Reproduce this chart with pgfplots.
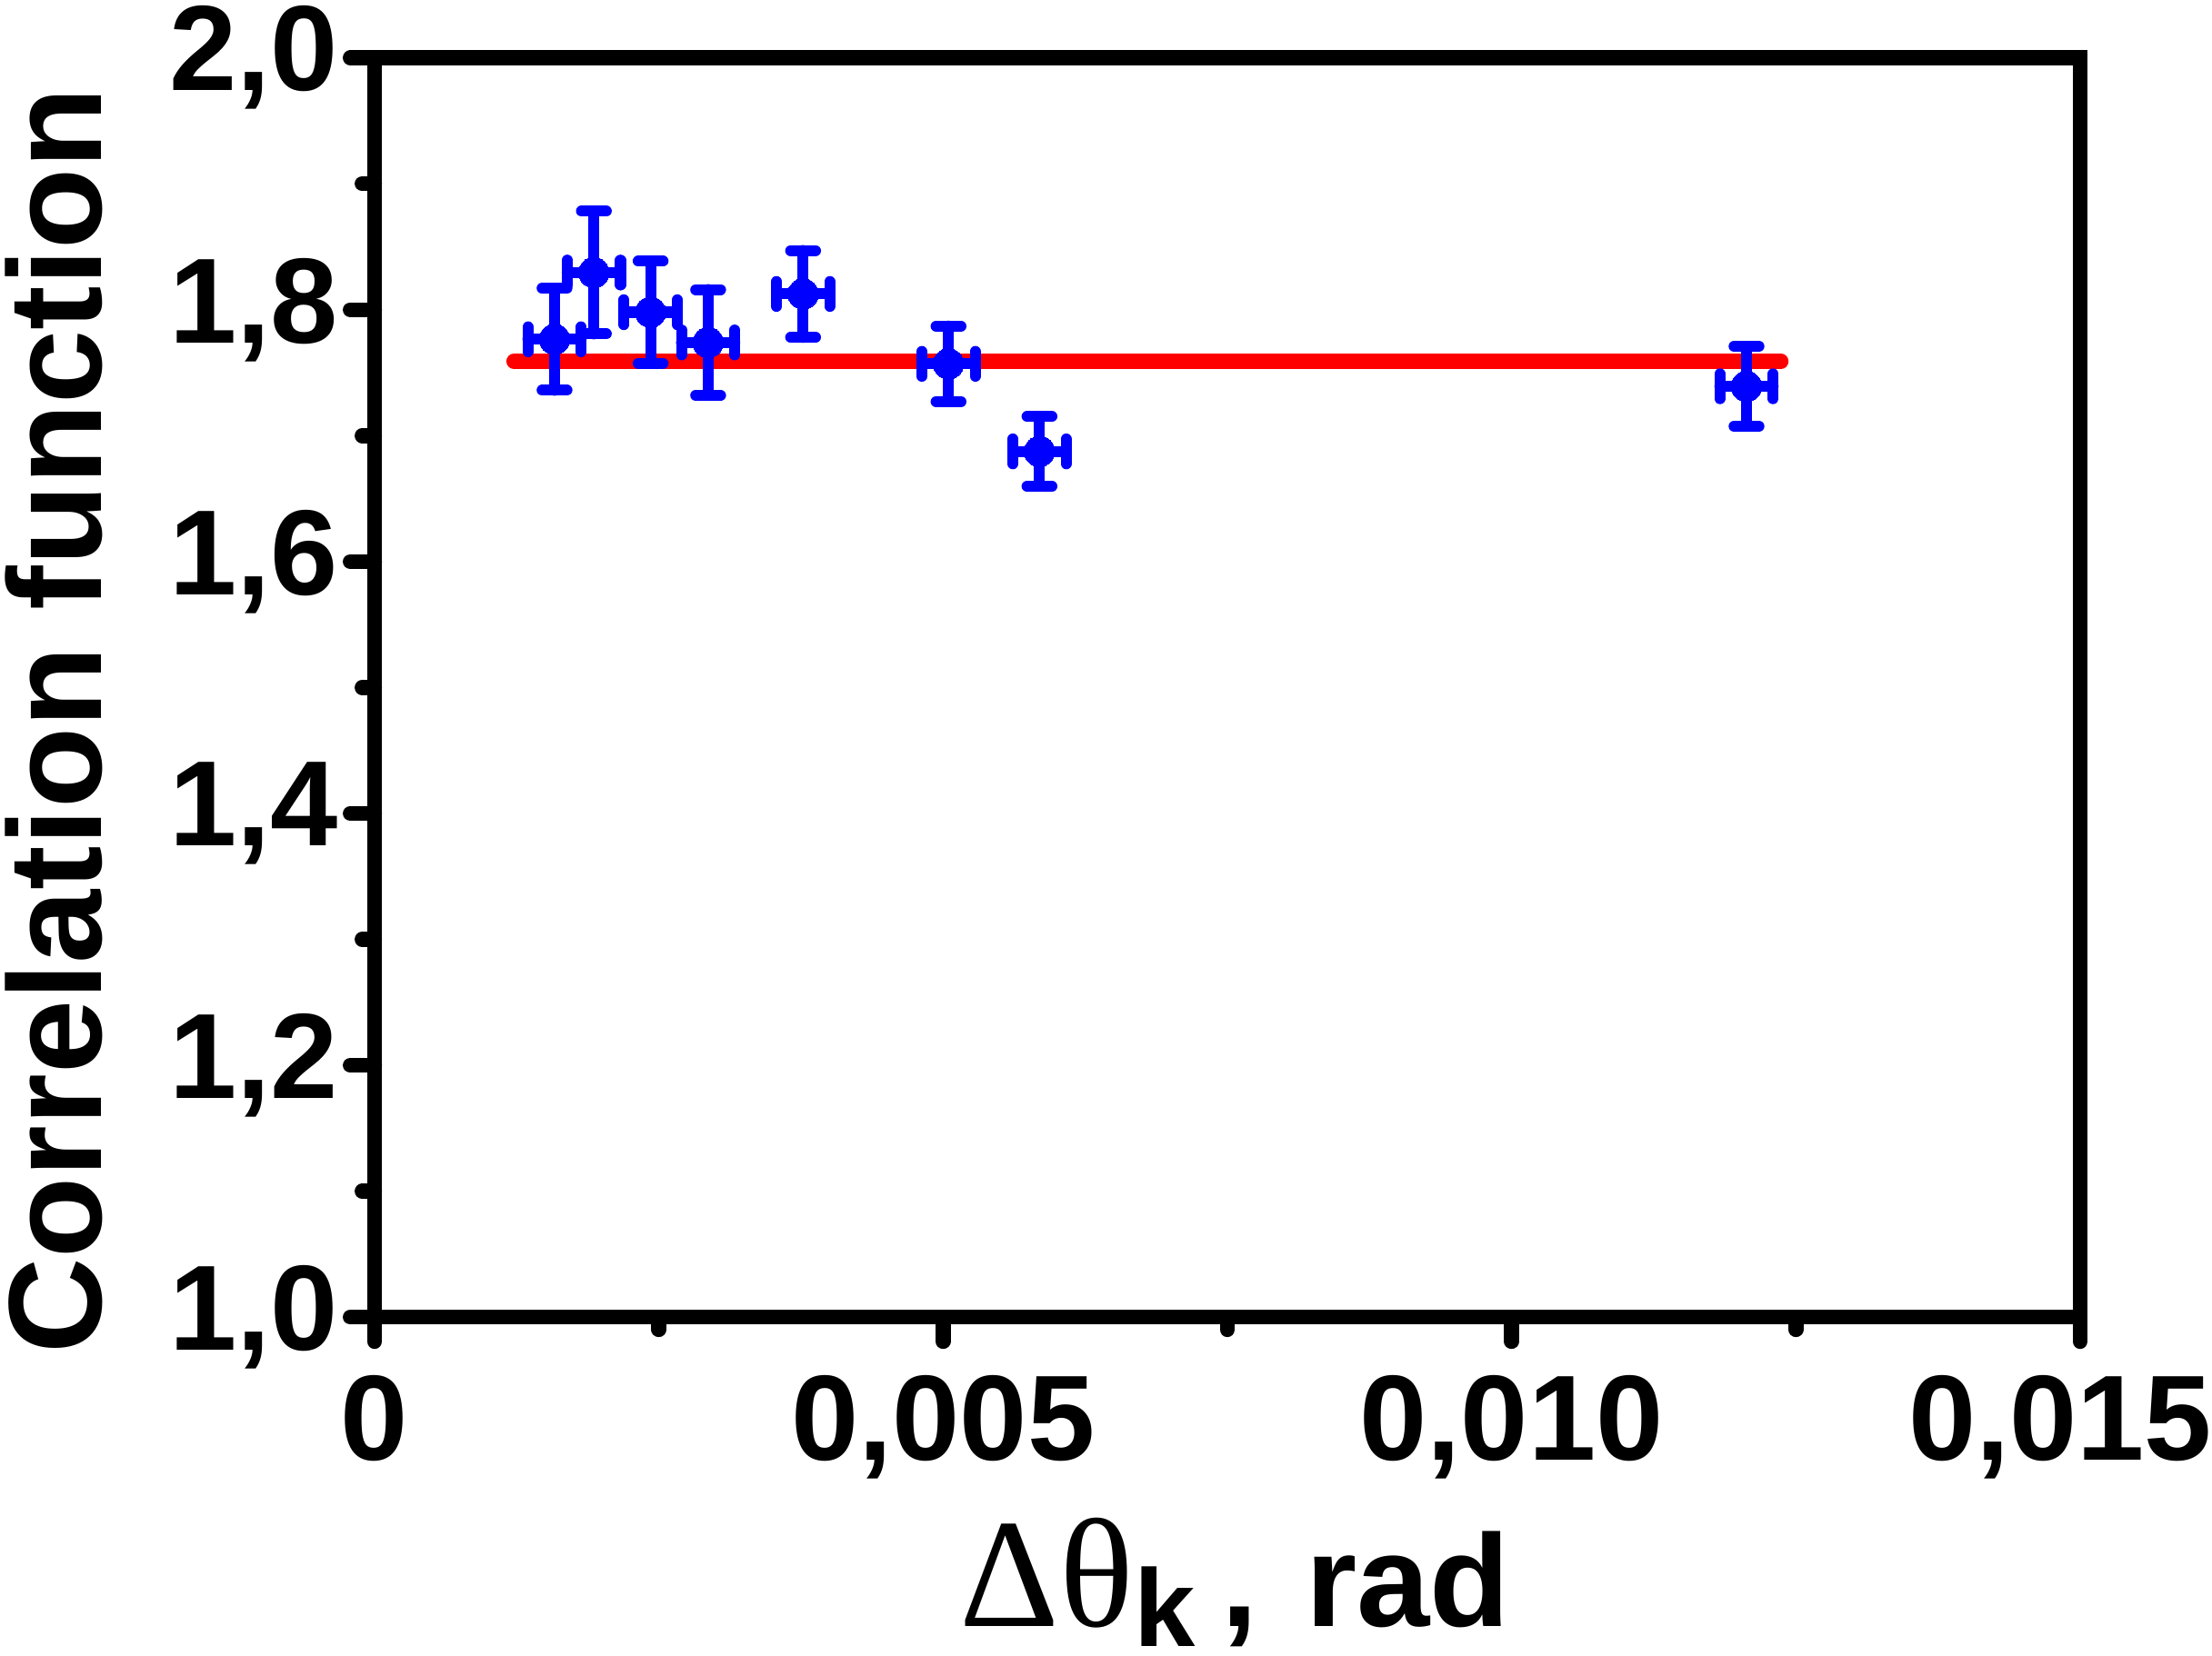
\documentclass[border=0pt]{standalone}
\usepackage{fontspec}
\setmainfont{Liberation Sans}
\newfontfamily\greekfont{Liberation Serif}
\usepackage{pgfplots}
\pgfplotsset{compat=1.18}
\begin{document}
\begin{tikzpicture}
\begin{axis}[
  at={(0pt,0pt)}, anchor=south west,
  scale only axis, width=604.5pt, height=446.5pt,
  xmin=0, xmax=0.015, ymin=1, ymax=2,
  scaled x ticks=false,
  axis line style={black, line width=5.3pt, line cap=round},
  xtick={0,0.005,0.01,0.015},
  xticklabels={0,{0,005},{0,010},{\hspace*{-14pt}0,015}},
  ytick={1,1.2,1.4,1.6,1.8,2},
  yticklabels={{1,0},{1,2},{1,4},{1,6},{1,8},{2,0}},
  minor xtick={0.0025,0.0075,0.0125},
  minor ytick={1.1,1.3,1.5,1.7,1.9},
  tick align=outside,
  xtick pos=bottom, ytick pos=left,
  major tick length=8.6pt, minor tick length=4.4pt,
  every tick/.style={black, line width=5.3pt, line cap=round},
  ticklabel style={font=\fontsize{43}{43}\selectfont\bfseries, inner sep=0pt},
  xticklabel style={anchor=north, yshift=-11.9pt},
  yticklabel style={anchor=east, xshift=-4.15pt},
  every axis y label/.style={at={(axis description cs:-0.16005,0.4737)}, rotate=90, anchor=base, inner sep=0pt, font=\fontsize{47}{47}\selectfont\bfseries},
  every axis x label/.style={at={(axis description cs:0.3428,-0.2459)}, anchor=base west, inner sep=0pt, font=\fontsize{46.5}{46.5}\selectfont\bfseries},
  ylabel={Correlation function},
  xlabel={{\greekfont\mdseries\fontsize{55}{55}\selectfont Δθ}\raisebox{-7pt}{\fontsize{39}{39}\selectfont k}\hspace{9.5pt},\hspace{4pt} rad},
]
\addplot[red, line width=5.3pt, line cap=round] coordinates {(0.001225,1.759) (0.01237,1.759)};
\addplot[only marks, blue, mark=*, mark size=5.4pt,
  mark options={fill=blue, draw=blue, line width=0pt},
  error bars/.cd,
    x dir=both, x explicit, y dir=both, y explicit,
    error bar style={blue, line width=3.9pt, line cap=round},
    error mark options={blue, rotate=90, line width=3.9pt, line cap=round, mark size=4.4pt},
] table[x=x, y=y, x error=ex, y error=ey] {
x        y       ex        ey
0.001583 1.7765  0.000234  0.0405
0.001929 1.8295  0.000234  0.0487
0.002428 1.798   0.000234  0.0405
0.002934 1.774   0.000234  0.042
0.003769 1.8125  0.000234  0.0345
0.005048 1.757   0.000234  0.030
0.005848 1.6875  0.000234  0.0277
0.012066 1.7392  0.000234  0.0317
};
\end{axis}
\pgfresetboundingbox
\useasboundingbox (-132.75pt,-120pt) rectangle (651.25pt,467pt);
\end{tikzpicture}
\end{document}
